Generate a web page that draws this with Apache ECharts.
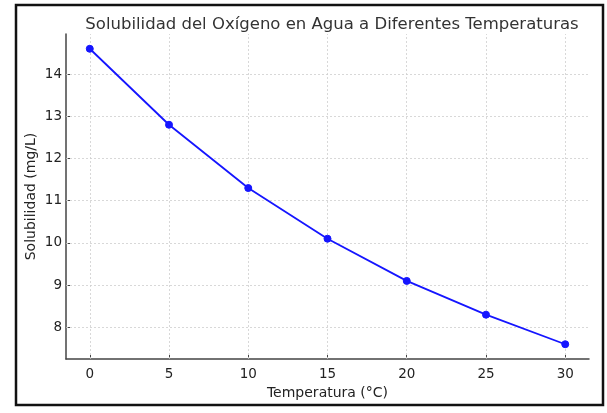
<!DOCTYPE html>
<html>
<head>
<meta charset="utf-8">
<script src="https://cdn.jsdelivr.net/npm/echarts@6/dist/echarts.min.js"></script>
<style>
  html, body { margin: 0; padding: 0; background: #fff; }
  #chart { width: 607px; height: 413px; }
</style>
</head>
<body>
<div id="chart"></div>
<script>
// datos
const temperatures = [0, 5, 10, 15, 20, 25, 30]
const solubility = [14.6, 12.8, 11.3, 10.1, 9.1, 8.3, 7.6]
const yTicks = [8, 9, 10, 11, 12, 13, 14]

const chart = echarts.init(document.getElementById('chart'))

const font = 'DejaVu Sans'
const blue = '#1515ff'

chart.setOption({
  animation: false,
  backgroundColor: '#fff',
  textStyle: { fontFamily: font },
  title: {
    text: 'Solubilidad del Oxígeno en Agua a Diferentes Temperaturas',
    left: 327,
    top: 11,
    textAlign: 'center',
    textStyle: { fontFamily: font, fontSize: 16.5, fontWeight: 'normal', color: '#333' },
  },
  graphic: [
    {
      type: 'rect',
      shape: { x: 16, y: 5, width: 587, height: 400 },
      style: { fill: 'none', stroke: '#111', lineWidth: 2.5 },
      silent: true,
    },
  ],
  grid: { left: 66, right: 18, top: 34, bottom: 54 },
  xAxis: {
    type: 'value',
    min: -1.5,
    max: 31.5,
    name: 'Temperatura (°C)',
    nameLocation: 'middle',
    nameGap: 21,
    nameTextStyle: { fontSize: 14, color: '#222', fontFamily: font },
    axisLine: { onZero: false, lineStyle: { color: '#444', width: 1.5 } },
    axisTick: { show: true, inside: true, length: 4, customValues: temperatures, lineStyle: { color: '#444' } },
    axisLabel: {
      fontSize: 13.5,
      color: '#222',
      margin: 8,
      customValues: temperatures,
    },
    splitLine: { show: false },
  },
  yAxis: {
    type: 'value',
    min: 7.25,
    max: 14.95,
    name: 'Solubilidad (mg/L)',
    nameLocation: 'middle',
    nameGap: 28,
    nameMoveOverlap: false,
    nameTextStyle: { fontSize: 14, color: '#222', fontFamily: font },
    axisLine: { show: true, onZero: false, lineStyle: { color: '#444', width: 1.5 } },
    axisTick: { show: true, inside: true, length: 4, customValues: yTicks, lineStyle: { color: '#444' } },
    axisLabel: {
      fontSize: 13.5,
      color: '#222',
      margin: 4,
      customValues: yTicks,
    },
    splitLine: { show: false },
  },
  series: [
    {
      // cuadrícula
      type: 'line',
      data: [],
      markLine: {
        silent: true,
        symbol: 'none',
        label: { show: false },
        lineStyle: { color: '#cfcfcf', type: [2, 2], width: 0.8 },
        data: temperatures.map(t => ({ xAxis: t })).concat(
          yTicks.map(v => ({ yAxis: v })),
        ),
      },
    },
    {
      type: 'line',
      z: 5,
      data: temperatures.map((t, i) => [t, solubility[i]]),
      symbol: 'circle',
      symbolSize: 7,
      lineStyle: { color: blue, width: 1.8 },
      itemStyle: { color: blue, borderColor: blue, borderWidth: 1 },
    },
  ],
})
</script>
</body>
</html>
